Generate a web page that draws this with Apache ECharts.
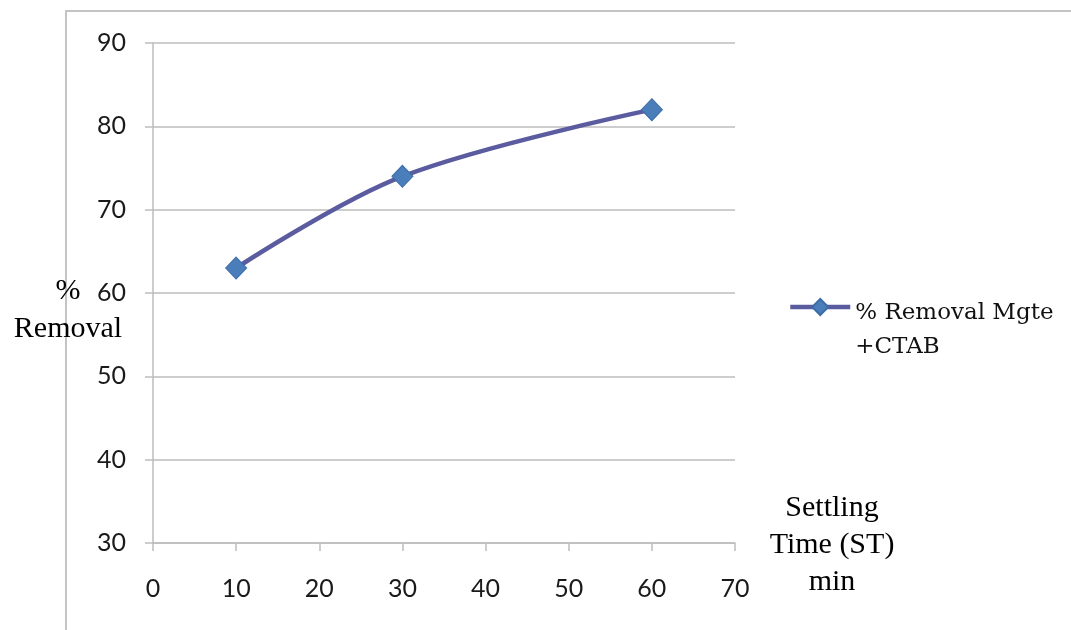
<!DOCTYPE html>
<html>
<head>
<meta charset="utf-8">
<script src="https://cdn.jsdelivr.net/npm/echarts@6/dist/echarts.min.js"></script>
<style>
  html, body { margin: 0; padding: 0; background: #fff; }
  #chart { width: 1071px; height: 630px; }
</style>
</head>
<body>
<div id="chart"></div>
<script>
// Settling time (min) versus percentage removal
const settlingTime = [10, 30, 60];
const removalPct = [63, 74, 82];
const seriesName = '% Removal Mgte +CTAB';
const xTicks = { min: 0, max: 70, interval: 10 };
const yTicks = { min: 30, max: 90, interval: 10 };

const gridColor = '#bdbdbd';
const labelFont = 'Lato, "Open Sans", sans-serif';
const serifFont = '"Liberation Serif", "DejaVu Serif", serif';
const legendFont = '"DejaVu Serif", serif';

const chart = echarts.init(document.getElementById('chart'), null, { renderer: 'canvas' });

chart.setOption({
  animation: false,
  backgroundColor: '#fff',
  grid: { left: 153, right: 336, top: 43, bottom: 87, containLabel: false },
  xAxis: {
    type: 'value',
    min: xTicks.min, max: xTicks.max, interval: xTicks.interval,
    axisLine: { show: true, lineStyle: { color: gridColor, width: 1.5 } },
    axisTick: { show: true, length: 8, inside: false, lineStyle: { color: gridColor, width: 1.5 } },
    axisLabel: { margin: 33, fontSize: 25, color: '#1a1a1a', fontFamily: labelFont },
    splitLine: { show: false }
  },
  yAxis: {
    type: 'value',
    min: yTicks.min, max: yTicks.max, interval: yTicks.interval,
    axisLine: { show: true, lineStyle: { color: gridColor, width: 1.5 } },
    axisTick: { show: true, length: 8, inside: false, lineStyle: { color: gridColor, width: 1.5 } },
    axisLabel: { margin: 27, fontSize: 25, color: '#1a1a1a', fontFamily: labelFont },
    splitLine: { show: true, lineStyle: { color: gridColor, width: 1.5 } }
  },
  legend: {
    show: true,
    left: 788,
    top: 268,
    padding: 0,
    orient: 'vertical',
    itemWidth: 60,
    itemHeight: 20,
    lineStyle: { width: 4.5 },
    formatter: () => '{gap|}\n{t|% Removal Mgte}\n{t|+CTAB}',
    textStyle: {
      rich: {
        gap: { lineHeight: 46, fontSize: 10 },
        t: { fontSize: 23, lineHeight: 34, color: '#111', fontFamily: legendFont }
      }
    },
    data: [seriesName]
  },
  series: [{
    name: seriesName,
    type: 'line',
    smooth: 0.35,
    data: settlingTime.map((t, i) => [t, removalPct[i]]),
    symbol: 'diamond',
    symbolSize: [21, 22],
    lineStyle: { color: '#5a5c9f', width: 4.5 },
    itemStyle: { color: '#4a7ebb', borderColor: '#3d6ca6', borderWidth: 1 },
    z: 3
  }],
  graphic: [
    {
      type: 'rect',
      shape: { x: 66, y: 11, width: 1100, height: 700 },
      style: { fill: 'none', stroke: '#c4c4c4', lineWidth: 2 },
      silent: true, z: -1
    },
    {
      type: 'text',
      x: 68, y: 272,
      style: {
        text: '%\nRemoval',
        font: '30px ' + serifFont,
        fill: '#000',
        align: 'center',
        lineHeight: 38
      }
    },
    {
      type: 'text',
      x: 832, y: 490,
      style: {
        text: 'Settling\nTime (ST)\nmin',
        font: '30px ' + serifFont,
        fill: '#000',
        align: 'center',
        lineHeight: 37
      }
    }
  ]
});
</script>
</body>
</html>
